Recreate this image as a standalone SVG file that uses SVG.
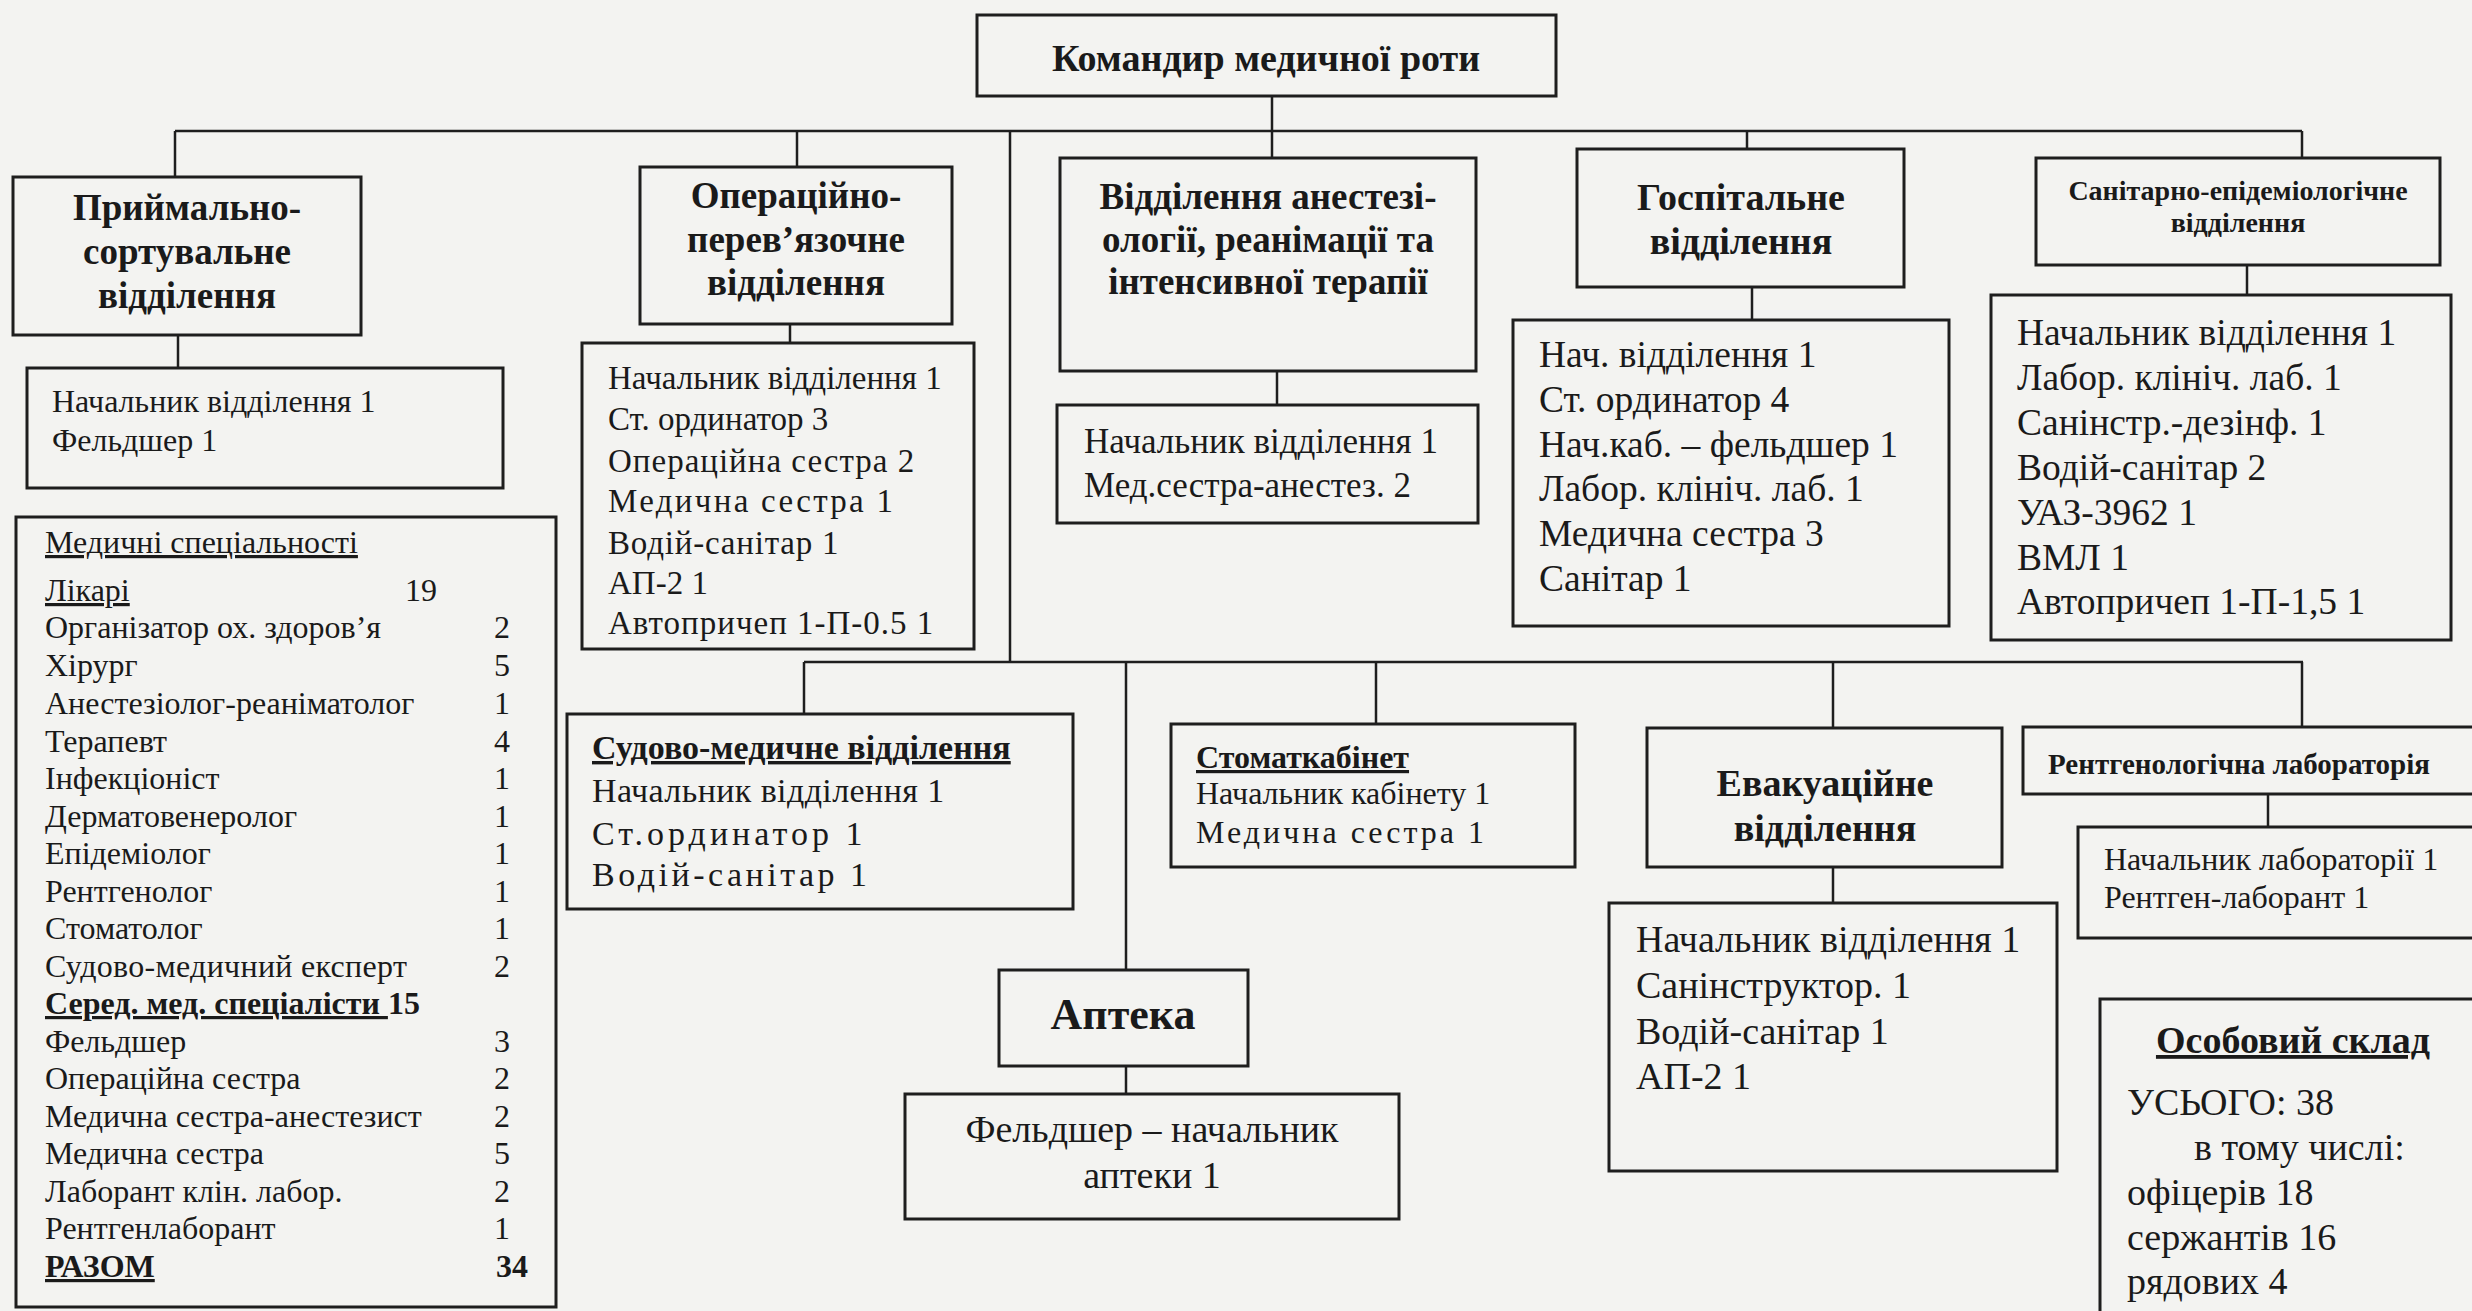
<svg xmlns="http://www.w3.org/2000/svg" width="2472" height="1311" viewBox="0 0 2472 1311">
<defs>
<style>
.bg{fill:#f3f3f1}
.box{fill:none;stroke:#1e1e1e;stroke-width:3}
.ln{fill:none;stroke:#1e1e1e;stroke-width:2.5}
.h{font-family:"Liberation Serif","Times New Roman",serif;font-weight:bold;text-anchor:middle;fill:#1a1a1a}
.t{font-family:"Liberation Serif","Times New Roman",serif;fill:#1a1a1a}
.b{font-weight:bold}
.u{text-decoration:underline}
.n{text-anchor:end}
</style>
</defs>
<rect class="bg" x="0" y="0" width="2472" height="1311"/>

<g id="connectors">
<path class="ln" d="M175 131 H2302"/>
<path class="ln" d="M175 131 V177"/>
<path class="ln" d="M797 131 V167"/>
<path class="ln" d="M1010 131 V662"/>
<path class="ln" d="M1272 96 V158"/>
<path class="ln" d="M1747 131 V149"/>
<path class="ln" d="M2302 131 V158"/>
<path class="ln" d="M178 335 V368"/>
<path class="ln" d="M790 323 V343"/>
<path class="ln" d="M1277 371 V405"/>
<path class="ln" d="M1752 287 V320"/>
<path class="ln" d="M2247 265 V295"/>
<path class="ln" d="M804 662 H2303"/>
<path class="ln" d="M804 662 V715"/>
<path class="ln" d="M1126 662 V970"/>
<path class="ln" d="M1376 662 V724"/>
<path class="ln" d="M1833 662 V728"/>
<path class="ln" d="M2302 662 V726"/>
<path class="ln" d="M1833 867 V903"/>
<path class="ln" d="M2268 793 V827"/>
<path class="ln" d="M1126 1066 V1094"/>
</g>

<g id="commander">
<rect class="box" x="977" y="15" width="579" height="81"/>
<text class="h" x="1266" y="71" font-size="38">Командир медичної роти</text>
</g>

<g id="reception">
<rect class="box" x="13" y="177" width="348" height="158"/>
<text class="h" x="187" y="220" font-size="37">Приймально-</text>
<text class="h" x="187" y="264" font-size="37">сортувальне</text>
<text class="h" x="187" y="308" font-size="37">відділення</text>
</g>
<g id="reception-staff">
<rect class="box" x="27" y="368" width="476" height="120"/>
<text class="t" x="52" y="412" font-size="32">Начальник відділення 1</text>
<text class="t" x="52" y="451" font-size="32">Фельдшер 1</text>
</g>

<g id="operating">
<rect class="box" x="640" y="167" width="312" height="157"/>
<text class="h" x="796" y="208" font-size="37">Операційно-</text>
<text class="h" x="796" y="252" font-size="37">перев’язочне</text>
<text class="h" x="796" y="295" font-size="37">відділення</text>
</g>
<g id="operating-staff">
<rect class="box" x="582" y="343" width="392" height="306"/>
<text class="t" x="608" y="389" font-size="33">Начальник відділення 1</text>
<text class="t" x="608" y="430" font-size="33">Ст. ординатор 3</text>
<text class="t" x="608" y="472" font-size="33" letter-spacing="1">Операційна сестра 2</text>
<text class="t" x="608" y="512" font-size="33" letter-spacing="2.3">Медична сестра 1</text>
<text class="t" x="608" y="554" font-size="33" letter-spacing="0.8">Водій-санітар 1</text>
<text class="t" x="608" y="594" font-size="33">АП-2 1</text>
<text class="t" x="608" y="634" font-size="33" letter-spacing="1">Автопричеп 1-П-0.5 1</text>
</g>

<g id="anesthesiology">
<rect class="box" x="1060" y="158" width="416" height="213"/>
<text class="h" x="1268" y="209" font-size="37">Відділення анестезі-</text>
<text class="h" x="1268" y="252" font-size="37">ології, реанімації та</text>
<text class="h" x="1268" y="294" font-size="37">інтенсивної терапії</text>
</g>
<g id="anesthesiology-staff">
<rect class="box" x="1057" y="405" width="421" height="118"/>
<text class="t" x="1084" y="453" font-size="35">Начальник відділення 1</text>
<text class="t" x="1084" y="497" font-size="35">Мед.сестра-анестез. 2</text>
</g>

<g id="hospital">
<rect class="box" x="1577" y="149" width="327" height="138"/>
<text class="h" x="1741" y="210" font-size="38">Госпітальне</text>
<text class="h" x="1741" y="254" font-size="38">відділення</text>
</g>
<g id="hospital-staff">
<rect class="box" x="1513" y="320" width="436" height="306"/>
<text class="t" x="1539" y="367" font-size="37.5">Нач. відділення 1</text>
<text class="t" x="1539" y="412" font-size="37.5">Ст. ординатор 4</text>
<text class="t" x="1539" y="457" font-size="37.5">Нач.каб. – фельдшер 1</text>
<text class="t" x="1539" y="501" font-size="37.5">Лабор. клініч. лаб. 1</text>
<text class="t" x="1539" y="546" font-size="37.5">Медична сестра 3</text>
<text class="t" x="1539" y="591" font-size="37.5">Санітар 1</text>
</g>

<g id="sanitary">
<rect class="box" x="2036" y="158" width="404" height="107"/>
<text class="h" x="2238" y="200" font-size="28">Санітарно-епідеміологічне</text>
<text class="h" x="2238" y="232" font-size="28">відділення</text>
</g>
<g id="sanitary-staff">
<rect class="box" x="1991" y="295" width="460" height="345"/>
<text class="t" x="2017" y="345" font-size="37.5">Начальник відділення 1</text>
<text class="t" x="2017" y="390" font-size="37.5">Лабор. клініч. лаб. 1</text>
<text class="t" x="2017" y="435" font-size="37.5">Санінстр.-дезінф. 1</text>
<text class="t" x="2017" y="480" font-size="37.5">Водій-санітар 2</text>
<text class="t" x="2017" y="525" font-size="37.5">УАЗ-3962 1</text>
<text class="t" x="2017" y="570" font-size="37.5">ВМЛ 1</text>
<text class="t" x="2017" y="614" font-size="37.5">Автопричеп 1-П-1,5 1</text>
</g>

<g id="specialties">
<rect class="box" x="16" y="517" width="540" height="790"/>
<text class="t u" x="45" y="553" font-size="32">Медичні спеціальності</text>
<text class="t u" x="45" y="601" font-size="32">Лікарі</text>
<text class="t" x="405" y="601" font-size="32">19</text>
<text class="t" x="45" y="638" font-size="32">Організатор ох. здоров’я</text><text class="t n" x="510" y="638" font-size="32">2</text>
<text class="t" x="45" y="676" font-size="32">Хірург</text><text class="t n" x="510" y="676" font-size="32">5</text>
<text class="t" x="45" y="714" font-size="32">Анестезіолог-реаніматолог</text><text class="t n" x="510" y="714" font-size="32">1</text>
<text class="t" x="45" y="752" font-size="32">Терапевт</text><text class="t n" x="510" y="752" font-size="32">4</text>
<text class="t" x="45" y="789" font-size="32">Інфекціоніст</text><text class="t n" x="510" y="789" font-size="32">1</text>
<text class="t" x="45" y="827" font-size="32">Дерматовенеролог</text><text class="t n" x="510" y="827" font-size="32">1</text>
<text class="t" x="45" y="864" font-size="32">Епідеміолог</text><text class="t n" x="510" y="864" font-size="32">1</text>
<text class="t" x="45" y="902" font-size="32">Рентгенолог</text><text class="t n" x="510" y="902" font-size="32">1</text>
<text class="t" x="45" y="939" font-size="32">Стоматолог</text><text class="t n" x="510" y="939" font-size="32">1</text>
<text class="t" x="45" y="977" font-size="32" letter-spacing="0.3">Судово-медичний експерт</text><text class="t n" x="510" y="977" font-size="32">2</text>
<text class="t b" x="45" y="1014" font-size="32"><tspan class="u">Серед. мед. спеціалісти </tspan>15</text>
<text class="t" x="45" y="1052" font-size="32">Фельдшер</text><text class="t n" x="510" y="1052" font-size="32">3</text>
<text class="t" x="45" y="1089" font-size="32">Операційна сестра</text><text class="t n" x="510" y="1089" font-size="32">2</text>
<text class="t" x="45" y="1127" font-size="32">Медична сестра-анестезист</text><text class="t n" x="510" y="1127" font-size="32">2</text>
<text class="t" x="45" y="1164" font-size="32">Медична сестра</text><text class="t n" x="510" y="1164" font-size="32">5</text>
<text class="t" x="45" y="1202" font-size="32">Лаборант клін. лабор.</text><text class="t n" x="510" y="1202" font-size="32">2</text>
<text class="t" x="45" y="1239" font-size="32">Рентгенлаборант</text><text class="t n" x="510" y="1239" font-size="32">1</text>
<text class="t b u" x="45" y="1277" font-size="32">РАЗОМ</text><text class="t b n" x="528" y="1277" font-size="32">34</text>
</g>

<g id="forensic">
<rect class="box" x="567" y="714" width="506" height="195"/>
<text class="t b u" x="592" y="759" font-size="34">Судово-медичне відділення</text>
<text class="t" x="592" y="802" font-size="34" letter-spacing="0.4">Начальник відділення 1</text>
<text class="t" x="592" y="845" font-size="34" letter-spacing="4">Ст.ординатор 1</text>
<text class="t" x="592" y="886" font-size="34" letter-spacing="3.5">Водій-санітар 1</text>
</g>

<g id="dental">
<rect class="box" x="1171" y="724" width="404" height="143"/>
<text class="t b u" x="1196" y="768" font-size="32">Стоматкабінет</text>
<text class="t" x="1196" y="804" font-size="32">Начальник кабінету 1</text>
<text class="t" x="1196" y="843" font-size="32" letter-spacing="3">Медична сестра 1</text>
</g>

<g id="pharmacy">
<rect class="box" x="999" y="970" width="249" height="96"/>
<text class="h" x="1123" y="1029" font-size="44">Аптека</text>
</g>
<g id="pharmacy-staff">
<rect class="box" x="905" y="1094" width="494" height="125"/>
<text class="t" x="1152" y="1142" font-size="38" text-anchor="middle">Фельдшер – начальник</text>
<text class="t" x="1152" y="1188" font-size="38" text-anchor="middle">аптеки 1</text>
</g>

<g id="evacuation">
<rect class="box" x="1647" y="728" width="355" height="139"/>
<text class="h" x="1825" y="796" font-size="38">Евакуаційне</text>
<text class="h" x="1825" y="841" font-size="38">відділення</text>
</g>
<g id="evacuation-staff">
<rect class="box" x="1609" y="903" width="448" height="268"/>
<text class="t" x="1636" y="952" font-size="38">Начальник відділення 1</text>
<text class="t" x="1636" y="998" font-size="38">Санінструктор. 1</text>
<text class="t" x="1636" y="1044" font-size="38">Водій-санітар 1</text>
<text class="t" x="1636" y="1089" font-size="38">АП-2 1</text>
</g>

<g id="xray">
<rect class="box" x="2023" y="727" width="470" height="67"/>
<text class="h" x="2239" y="774" font-size="29">Рентгенологічна лабораторія</text>
</g>
<g id="xray-staff">
<rect class="box" x="2078" y="827" width="415" height="111"/>
<text class="t" x="2104" y="870" font-size="32">Начальник лабораторії 1</text>
<text class="t" x="2104" y="908" font-size="32">Рентген-лаборант 1</text>
</g>

<g id="personnel">
<rect class="box" x="2100" y="999" width="380" height="330"/>
<text class="h u" x="2293" y="1053" font-size="38">Особовий склад</text>
<text class="t" x="2127" y="1115" font-size="38">УСЬОГО: 38</text>
<text class="t" x="2194" y="1160" font-size="38">в тому числі:</text>
<text class="t" x="2127" y="1205" font-size="38">офіцерів 18</text>
<text class="t" x="2127" y="1250" font-size="38">сержантів 16</text>
<text class="t" x="2127" y="1294" font-size="38">рядових 4</text>
</g>
</svg>
